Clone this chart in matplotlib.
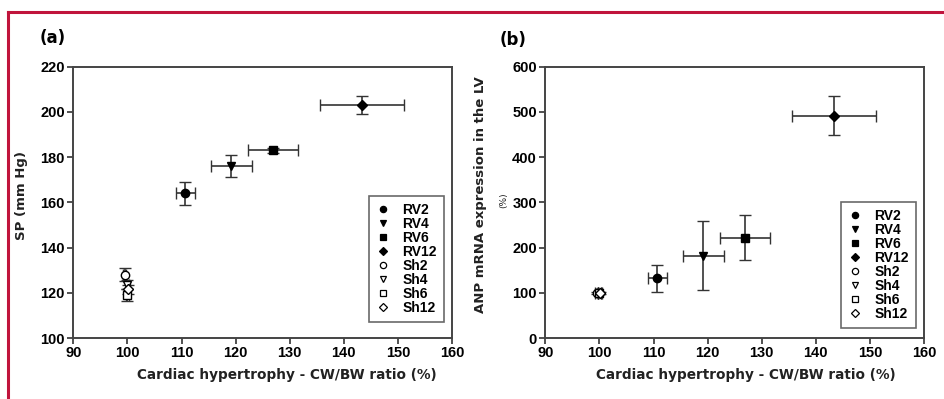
import matplotlib
matplotlib.use("Agg")
import matplotlib.pyplot as plt
from matplotlib.lines import Line2D

groups = ["RV2", "RV4", "RV6", "RV12", "Sh2", "Sh4", "Sh6", "Sh12"]
markers = ["o", "v", "s", "D", "o", "v", "s", "D"]
filled = [True, True, True, True, False, False, False, False]

cw_bw = [110.7, 119.2, 126.9, 143.4, 99.5, 100.0, 100.0, 100.1]
cw_bw_err = [1.8, 3.8, 4.6, 7.8, 0.3, 0.3, 0.3, 0.3]

sp = [164, 176, 183, 203, 128, 123.5, 119, 121.5]
sp_err = [5, 5, 1, 4, 3, 2, 2.5, 2]

anp = [132, 182, 222, 492, 100, 100, 100, 100]
anp_err = [30, 76, 50, 44, 2, 2, 2, 2]

x_ticks = [90, 100, 110, 120, 130, 140, 150, 160]

plt.rcParams['font.family'] = ['DejaVu Sans']
TICKFONT = "Liberation Sans"

fig = plt.figure(figsize=(9.44, 3.99), dpi=100)
W, H = 944, 399

def axrect(l, r, t, b):
    return [l / W, 1 - b / H, (r - l) / W, (b - t) / H]

AX_L1, AX_R1, AX_T, AX_B = 73.3, 452, 66.7, 338
AX_L2, AX_R2 = 545.3, 924
ax1 = fig.add_axes(axrect(AX_L1, AX_R1, AX_T, AX_B))
ax2 = fig.add_axes(axrect(AX_L2, AX_R2, AX_T, AX_B))

def to_axes(ax_l, ax_r, px, py):
    return ((px - ax_l) / (ax_r - ax_l), (AX_B - py) / (AX_B - AX_T))

def draw(ax, yvals, yerrs, ylim, yticks, leg_bbox, xlab_x):
    for i, g in enumerate(groups):
        ax.errorbar(cw_bw[i], yvals[i], xerr=cw_bw_err[i], yerr=yerrs[i],
                    fmt=markers[i], ms=6 if markers[i] != "D" else 5,
                    mfc="black" if filled[i] else "white", mec="black", mew=1.0,
                    ecolor="#333333", elinewidth=1.2, capsize=4, capthick=1.2,
                    zorder=3)
    ax.set_xlim(90, 160)
    ax.set_ylim(*ylim)
    ax.set_xticks(x_ticks)
    ax.set_yticks(yticks)
    for lab in ax.get_xticklabels() + ax.get_yticklabels():
        lab.set_fontweight("bold")
        lab.set_fontsize(10.5)
        lab.set_fontfamily(TICKFONT)
    ax.tick_params(direction="out", length=4, width=1.2, color="#333333", pad=2)
    for s in ax.spines.values():
        s.set_linewidth(1.4)
        s.set_color("#444444")
    ax.set_xlabel("Cardiac hypertrophy - CW/BW ratio (%)", fontsize=9.8,
                  fontweight="bold", color="#222222")
    ax.xaxis.set_label_coords(xlab_x, -0.11)
    handles = [Line2D([], [], marker=markers[i], linestyle="none",
                      ms=4.5 if markers[i] != "D" else 4,
                      mfc="black" if filled[i] else "white", mec="black", mew=0.9)
               for i in range(len(groups))]
    leg = ax.legend(handles, groups, loc="lower left", bbox_to_anchor=leg_bbox,
                    frameon=True, fancybox=False, edgecolor="#444444",
                    prop={"weight": "bold", "size": 10, "family": TICKFONT},
                    handlelength=1.0, handletextpad=0.9, labelspacing=0.0,
                    borderpad=0.5, borderaxespad=0)
    leg.get_frame().set_linewidth(1.2)

draw(ax1, sp, sp_err, (100, 220), [100, 120, 140, 160, 180, 200, 220],
     to_axes(AX_L1, AX_R1, 369, 322), 0.563)
draw(ax2, anp, anp_err, (0, 600), [0, 100, 200, 300, 400, 500, 600],
     to_axes(AX_L2, AX_R2, 841, 328), 0.529)

ax1.set_ylabel("SP (mm Hg)", fontsize=9.5, fontweight="bold", color="#222222")
ax1.yaxis.set_label_coords(-0.12, 0.527)
ax2.set_ylabel("ANP mRNA expression in the LV", fontsize=9.5, fontweight="bold",
               color="#222222")
ax2.yaxis.set_label_coords(-0.154, 0.527)
ax2.text(-0.109, 0.509, "(%)", transform=ax2.transAxes, rotation=90, fontsize=6.5,
         ha="center", va="center", color="#222222")

fig.text(40 / W, 1 - 38 / H, "(a)", fontsize=12, fontweight="bold", va="center")
fig.text(500 / W, 1 - 40 / H, "(b)", fontsize=12, fontweight="bold", va="center")

crimson = "#C0143C"
fig.add_artist(Line2D([8 / W, 1.0], [1 - 11.5 / H, 1 - 11.5 / H],
                      transform=fig.transFigure, color=crimson, lw=2.2))
fig.add_artist(Line2D([8 / W, 8 / W], [0, 1 - 11.5 / H],
                      transform=fig.transFigure, color=crimson, lw=2.2))

fig.savefig("out.png", dpi=100)
